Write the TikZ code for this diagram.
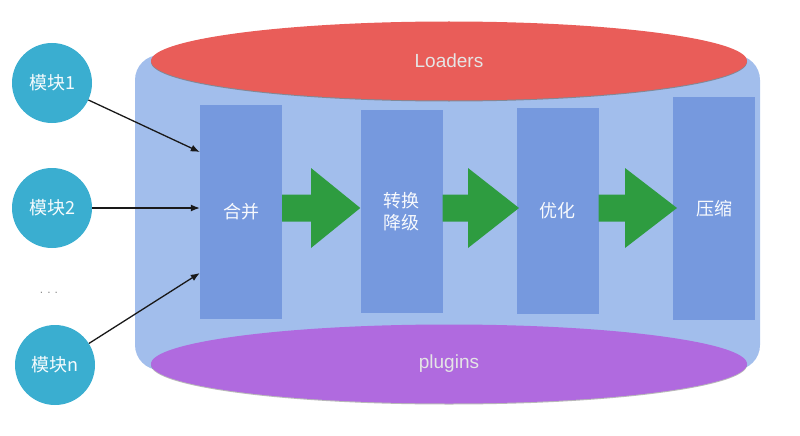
\documentclass[tikz,border=0pt]{standalone}
\usepackage{fontspec}
\setmainfont{Liberation Sans}
\newfontfamily\cjk{Noto Sans CJK SC}
\usetikzlibrary{arrows.meta,calc,shapes.geometric}
\definecolor{bgblue}{HTML}{A2BEEC}
\definecolor{boxblue}{HTML}{7699DE}
\definecolor{loadred}{HTML}{E95D59}
\definecolor{plugpurple}{HTML}{B06ADF}
\definecolor{modcyan}{HTML}{3AAED0}
\definecolor{arrowgreen}{HTML}{2E9C40}
\tikzset{
  stagebox/.style={fill=boxblue, minimum width=82pt, inner sep=0pt, font=\cjk\fontsize{18}{22}\selectfont, text=white!95!boxblue, align=center},
  modnode/.style={circle, fill=modcyan, minimum size=80pt, inner sep=0pt, font=\cjk\fontsize{18}{22}\selectfont, text=white!95!modcyan},
  capell/.style={ellipse, minimum width=596pt, minimum height=79pt, inner sep=0pt, font=\fontsize{19}{23}\selectfont, text=white!90!black},
  inarrow/.style={-{Latex[length=9pt,width=7pt]}, line width=1.3pt, black!90},
  greenarrow/.style={fill=arrowgreen}
}
\begin{document}
\begin{tikzpicture}[x=1pt,y=-1pt]
\useasboundingbox (0,0) rectangle (800,436);
% background cylinder body
\path[fill=bgblue, rounded corners=25pt] (135,55) rectangle (760,370);
% top ellipse (Loaders)
\fill[black!55, opacity=0.7] (449,62) ellipse [x radius=298pt, y radius=39.5pt];
\node[capell, fill=loadred] (loaders) at (449,61) {Loaders};
% bottom ellipse (plugins)
\fill[black!55, opacity=0.5] (449,365) ellipse [x radius=298pt, y radius=39.5pt];
\node[capell, fill=plugpurple] (plugins) at (449,364) {plugins};
% stage boxes
\node[stagebox, minimum height=214pt] (merge) at (241,212) {合并};
\node[stagebox, minimum height=203pt] (trans) at (401.5,211.5) {转换\\降级};
\node[stagebox, minimum height=206pt] (opt) at (557.5,211) {优化};
\node[stagebox, minimum height=223pt] (comp) at (714,208.5) {压缩};
% green block arrows
\fill[greenarrow] (merge.east |- 0,194.5) -- (311,194.5) -- (311,168) -- (trans.west |- 0,208) -- (311,248) -- (311,221.5) -- (merge.east |- 0,221.5) -- cycle;
\fill[greenarrow] (trans.east |- 0,194.5) -- (468,194.5) -- (468,168) -- (519,208) -- (468,248) -- (468,221.5) -- (trans.east |- 0,221.5) -- cycle;
\fill[greenarrow] (opt.east |- 0,194.5) -- (625,194.5) -- (625,168) -- (677,208) -- (625,248) -- (625,221.5) -- (opt.east |- 0,221.5) -- cycle;
% modules
\node[modnode] (m1) at (52,83) {模块1};
\node[modnode] (m2) at (52,208) {模块2};
\node[modnode] (mn) at (55,365) {模块n};
\node[font=\fontsize{12}{14}\selectfont, text=black!45] (dots) at (49,293) {.\,\,.\,\,.};
% inputs
\coordinate (in1) at (merge.west |- 0,152);
\coordinate (in2) at (merge.west |- 0,208);
\coordinate (inn) at (merge.west |- 0,273);
\draw[inarrow] (m1) -- (in1);
\draw[inarrow] (m2) -- (in2);
\draw[inarrow] (mn) -- (inn);
\end{tikzpicture}
\end{document}
